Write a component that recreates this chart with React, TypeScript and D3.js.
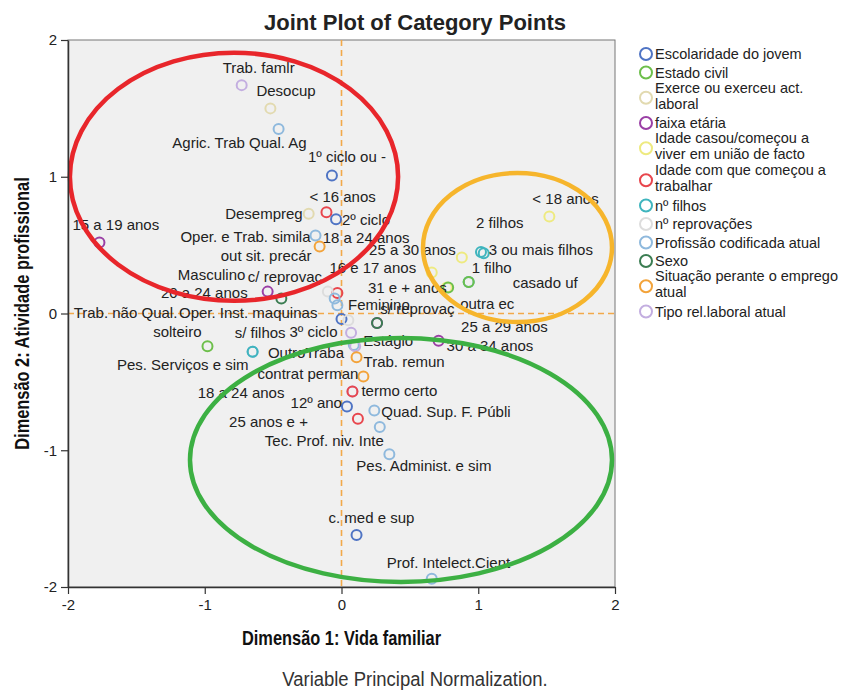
import React, { useEffect, useRef } from "react";
import * as d3 from "d3";

// variable groups (legend order) and their SPSS colours
const groups = [
  ["Escolaridade do jovem"],
  ["Estado civil"],
  ["Exerce ou exerceu act.", "laboral"],
  ["faixa etária"],
  ["Idade casou/começou a", "viver em união de facto"],
  ["Idade com que começou a", "trabalhar"],
  ["nº filhos"],
  ["nº reprovações"],
  ["Profissão codificada atual"],
  ["Sexo"],
  ["Situação perante o emprego", "atual"],
  ["Tipo rel.laboral atual"],
];
const groupColors = [
  "#4f74c4", "#6dbf4b", "#e2dab0", "#9a3fa5", "#eeea80", "#e8464d",
  "#3fb5be", "#dddddd", "#8fb9dd", "#3b7d52", "#f3a33a", "#c3aee0",
];

// category points
const pointLabels = [
  "Pes. Serviços e sim", "31 e + anos", "1 filho", "25 a 29 anos", "termo certo", "",
  "Trab. famlr", "Desocup", "Agric. Trab Qual. Ag", "1º ciclo ou -", "< 16 anos",
  "Desempreg", "2º ciclo", "Oper. e Trab. simila", "18 a 24 anos", "out sit. precár",
  "25 a 30 anos", "2 filhos", "3 ou mais filhos", "< 18 anos", "outra ec", "casado uf",
  "16 e 17 anos", "c/ reprovaç", "20 a 24 anos", "Masculino", "Trab. não Qual.",
  "Oper. Inst. maquinas", "15 a 19 anos", "Feminino", "3º ciclo", "s/ reprovaç",
  "OutroTraba", "Estágio", "Trab. remun", "contrat perman", "18 a 24 anos", "12º ano",
  "Quad. Sup. F. Públi", "25 anos e +", "Tec. Prof. niv. Inte", "Pes. Administ. e sim",
  "c. med e sup", "Prof. Intelect.Cient", "s/ filhos", "solteiro", "30 a 34 anos",
];
const pointGroup = [
  8, 4, 6, 3, 11, 8,
  11, 2, 8, 0, 5,
  2, 0, 8, 4, 10,
  4, 6, 6, 4, 1, 1,
  5, 7, 3, 9, 8,
  8, 3, 9, 0, 7,
  11, 11, 10, 10, 5, 0,
  8, 5, 8, 8,
  0, 8, 6, 1, 3,
];
const dim1 = [
  -0.65, 0.77, 0.93, 0.26, 0.08, 0.09,
  -0.73, -0.52, -0.46, -0.07, -0.11,
  -0.24, -0.04, -0.19, 0.66, -0.16,
  0.88, 1.02, 1.04, 1.52, 0.78, 0.93,
  -0.03, -0.10, -0.54, -0.44, -0.05,
  -0.03, -1.77, 0.26, 0.0, 0.05,
  0.07, 0.10, 0.11, 0.16, 0.08, 0.04,
  0.24, 0.12, 0.28, 0.35,
  0.11, 0.66, -0.65, -0.98, 0.71,
];
const dim2 = [
  -0.28, 0.19, 0.23, -0.07, -0.57, -0.23,
  1.67, 1.5, 1.35, 1.01, 0.74,
  0.73, 0.69, 0.57, 0.3, 0.49,
  0.41, 0.45, 0.44, 0.71, 0.19, 0.23,
  0.15, 0.16, 0.16, 0.11, 0.11,
  0.06, 0.52, -0.07, -0.04, -0.05,
  -0.14, -0.24, -0.32, -0.46, -0.57, -0.68,
  -0.71, -0.77, -0.83, -1.03,
  -1.62, -1.94, -0.28, -0.24, -0.2,
];

// where each label sits next to its point: anchor, dx, dy (px)
const labelPlace: [string, number, number][] = [
  ["end", -4, 18], ["end", 0, 5], ["start", 3, -9], ["start", 84, 9], ["start", 9, 5], ["start", 0, 0],
  ["start", -19, -12], ["start", -14, -12], ["end", 28, 19], ["start", -24, -13], ["start", -17, -10],
  ["end", -6, 5], ["start", 6, 6], ["end", -5, 6], ["start", -109, -29], ["end", -8, 15],
  ["end", -6, -2], ["start", -5, -24], ["start", 5, 2], ["start", -17, -12], ["start", 12, 21], ["start", 44, 6],
  ["start", -8, -20], ["start", -80, -10], ["end", -20, 6], ["end", -36, -18], ["start", -261, 20],
  ["end", -20, 13], ["start", -27, -12], ["start", -29, -13], ["end", -4, 18], ["start", 32, -6],
  ["end", -7, 25], ["start", 8, 0], ["start", 7, 10], ["end", -5, 3], ["end", -68, 7], ["end", -5, 2],
  ["start", 7, 6], ["end", -50, 8], ["end", 4, 19], ["start", -33, 17],
  ["start", -28, -12], ["start", -45, -11], ["end", 33, -14], ["end", -6, -9], ["start", 8, 10],
];

const ticks = [-2, -1, 0, 1, 2];

// hand drawn highlight ellipses: centre x, centre y, radius x, radius y (in dimension units)
const highlightColors = ["#e8262b", "#f6b52c", "#3cb043"];
const highlightCx = [-0.786, 1.287, 0.435];
const highlightCy = [1.0, 0.483, -1.071];
const highlightRx = [1.2, 0.691, 1.543];
const highlightRy = [0.907, 0.545, 0.892];

const FONT = "'Liberation Sans', Arial, sans-serif";

const App: React.FC = () => {
  const svgRef = useRef<SVGSVGElement | null>(null);

  useEffect(() => {
    const width = 850;
    const height = 690;
    const x = d3.scaleLinear().domain([-2, 2]).range([68, 615]);
    const y = d3.scaleLinear().domain([-2, 2]).range([587, 40]);

    const svg = d3.select(svgRef.current).attr("width", width).attr("height", height);
    svg.selectAll("*").remove();

    // title
    svg
      .append("text")
      .attr("x", 415)
      .attr("y", 30)
      .attr("text-anchor", "middle")
      .attr("font-family", FONT)
      .attr("font-weight", "bold")
      .attr("font-size", 22)
      .attr("fill", "#222")
      .text("Joint Plot of Category Points");

    // plot background
    svg
      .append("rect")
      .attr("x", x(-2))
      .attr("y", y(2))
      .attr("width", x(2) - x(-2))
      .attr("height", y(-2) - y(2))
      .attr("fill", "#f0f0f0")
      .attr("stroke", "#777")
      .attr("stroke-width", 1);

    // zero reference lines
    const refColor = "#f2a94a";
    svg
      .append("line")
      .attr("x1", x(0)).attr("x2", x(0))
      .attr("y1", y(2)).attr("y2", y(-2))
      .attr("stroke", refColor).attr("stroke-width", 1.6).attr("stroke-dasharray", "6,4");
    svg
      .append("line")
      .attr("x1", x(-2)).attr("x2", x(2))
      .attr("y1", y(0)).attr("y2", y(0))
      .attr("stroke", refColor).attr("stroke-width", 1.6).attr("stroke-dasharray", "6,4");

    // points
    const idx = d3.range(pointLabels.length);
    svg
      .append("g")
      .selectAll("circle")
      .data(idx)
      .enter()
      .append("circle")
      .attr("cx", (i) => x(dim1[i]))
      .attr("cy", (i) => y(dim2[i]))
      .attr("r", 5)
      .attr("fill", "none")
      .attr("stroke", (i) => groupColors[pointGroup[i]])
      .attr("stroke-width", 2);

    // labels
    svg
      .append("g")
      .selectAll("text")
      .data(idx.filter((i) => pointLabels[i] !== ""))
      .enter()
      .append("text")
      .attr("x", (i) => x(dim1[i]) + labelPlace[i][1])
      .attr("y", (i) => y(dim2[i]) + labelPlace[i][2])
      .attr("text-anchor", (i) => labelPlace[i][0])
      .attr("font-family", FONT)
      .attr("font-size", 15)
      .attr("fill", "#222")
      .text((i) => pointLabels[i]);

    // highlight ellipses
    svg
      .append("g")
      .selectAll("ellipse")
      .data(d3.range(highlightColors.length))
      .enter()
      .append("ellipse")
      .attr("cx", (i) => x(highlightCx[i]))
      .attr("cy", (i) => y(highlightCy[i]))
      .attr("rx", (i) => x(highlightRx[i]) - x(0))
      .attr("ry", (i) => y(0) - y(highlightRy[i]))
      .attr("fill", "none")
      .attr("stroke", (i) => highlightColors[i])
      .attr("stroke-width", 4.5);

    // axes
    const fmt = (d: d3.NumberValue) => String(d);
    const xAxis = svg
      .append("g")
      .attr("transform", `translate(0,${y(-2)})`)
      .call(d3.axisBottom(x).tickValues(ticks).tickSize(7).tickSizeOuter(0).tickPadding(5).tickFormat(fmt));
    const yAxis = svg
      .append("g")
      .attr("transform", `translate(${x(-2)},0)`)
      .call(d3.axisLeft(y).tickValues(ticks).tickSize(7).tickSizeOuter(0).tickPadding(4).tickFormat(fmt));
    [xAxis, yAxis].forEach((g) => {
      g.select(".domain").attr("stroke", "#333").attr("stroke-width", 1.5);
      g.selectAll(".tick line").attr("stroke", "#333").attr("stroke-width", 1.2);
      g.selectAll(".tick text").attr("font-family", FONT).attr("font-size", 15).attr("fill", "#222");
    });

    // axis titles (condensed look via horizontal scaling)
    svg
      .append("text")
      .attr("transform", `translate(${x(0)},645) scale(0.82,1)`)
      .attr("text-anchor", "middle")
      .attr("font-family", FONT)
      .attr("font-weight", "bold")
      .attr("font-size", 20)
      .attr("fill", "#111")
      .text("Dimensão 1: Vida familiar");
    svg
      .append("text")
      .attr("transform", `translate(29,${y(0)}) rotate(-90) scale(0.82,1)`)
      .attr("text-anchor", "middle")
      .attr("font-family", FONT)
      .attr("font-weight", "bold")
      .attr("font-size", 20)
      .attr("fill", "#111")
      .text("Dimensão 2: Atividade profissional");

    svg
      .append("text")
      .attr("transform", "translate(415,686) scale(0.88,1)")
      .attr("text-anchor", "middle")
      .attr("font-family", FONT)
      .attr("font-size", 21)
      .attr("fill", "#333")
      .text("Variable Principal Normalization.");

    // legend
    const legend = svg.append("g");
    let cy = 54;
    groups.forEach((lines, i) => {
      if (i > 0) {
        const prev = groups[i - 1].length > 1 ? 32 : 18.5;
        const cur = lines.length > 1 ? 32 : 18.5;
        cy += (prev + cur) / 2;
      }
      legend
        .append("circle")
        .attr("cx", 646)
        .attr("cy", cy)
        .attr("r", 6)
        .attr("fill", "none")
        .attr("stroke", groupColors[i])
        .attr("stroke-width", 2);
      lines.forEach((t, k) => {
        legend
          .append("text")
          .attr("x", 655)
          .attr("y", lines.length > 1 ? cy - 5 + k * 16 : cy + 5)
          .attr("font-family", FONT)
          .attr("font-size", 14.5)
          .attr("fill", "#222")
          .text(t);
      });
    });
  }, []);

  return <svg ref={svgRef} style={{ position: "absolute", left: 0, top: 0, background: "#fff" }} />;
};

export default App;
